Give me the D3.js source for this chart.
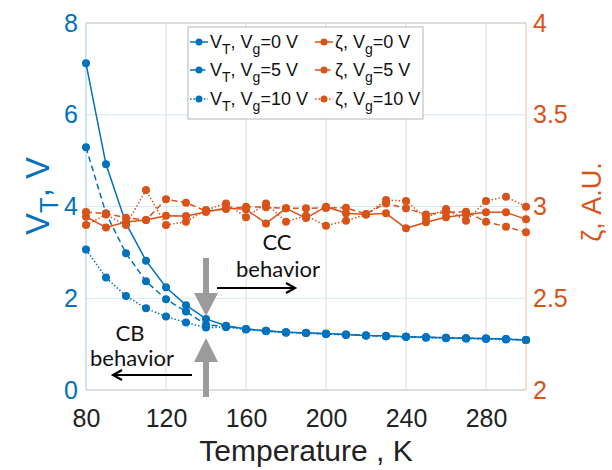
<!DOCTYPE html>
<html>
<head>
<meta charset="utf-8">
<script src="https://cdn.jsdelivr.net/npm/d3@7"></script>
<style>
  body { margin: 0; background: #fff; }
  svg { display: block; font-family: "Liberation Sans", Arial, sans-serif; }
</style>
</head>
<body>
<div id="chart"></div>
<script>
// Data
const temps = [80, 90, 100, 110, 120, 130, 140, 150, 160, 170, 180, 190, 200, 210, 220, 230, 240, 250, 260, 270, 280, 290, 300];
const vt0  = [7.12, 4.92, 3.63, 2.82, 2.24, 1.85, 1.55, 1.40, 1.33, 1.29, 1.26, 1.25, 1.23, 1.21, 1.19, 1.18, 1.16, 1.15, 1.14, 1.13, 1.12, 1.11, 1.09];
const vt5  = [5.29, 3.85, 2.98, 2.37, 1.98, 1.71, 1.42, 1.39, 1.33, 1.29, 1.26, 1.24, 1.22, 1.21, 1.19, 1.17, 1.16, 1.15, 1.14, 1.13, 1.12, 1.11, 1.09];
const vt10 = [3.06, 2.45, 2.05, 1.78, 1.60, 1.47, 1.36, 1.37, 1.32, 1.28, 1.25, 1.24, 1.22, 1.20, 1.19, 1.17, 1.16, 1.14, 1.13, 1.12, 1.11, 1.10, 1.09];
const zeta0  = [2.944, 2.886, 2.916, 2.926, 2.950, 2.948, 2.970, 2.992, 2.985, 2.908, 2.990, 2.937, 2.999, 2.963, 2.957, 2.963, 2.881, 2.914, 2.941, 2.957, 2.968, 2.968, 2.930];
const zeta5  = [2.970, 2.962, 2.939, 2.926, 3.039, 3.021, 2.975, 2.986, 2.999, 2.996, 2.990, 2.990, 2.992, 2.993, 2.959, 3.017, 2.990, 2.957, 2.968, 2.972, 2.917, 2.890, 2.859];
const zeta10 = [2.899, 2.956, 2.899, 3.090, 2.899, 2.917, 2.981, 3.017, 2.941, 3.017, 2.917, 2.950, 2.895, 2.923, 2.956, 3.035, 3.030, 2.939, 2.986, 2.923, 3.030, 3.053, 2.999];
const xTicks = [80, 120, 160, 200, 240, 280];
const yLeftTicks = [0, 2, 4, 6, 8];
const yRightTicks = [2, 2.5, 3, 3.5, 4];

const blue = '#0072BD', orange = '#D95319';

const cfg = {width: 612, height: 470, margin: {top: 23, right: 86, bottom: 80, left: 86}};
const iw = cfg.width - cfg.margin.left - cfg.margin.right;
const ih = cfg.height - cfg.margin.top - cfg.margin.bottom;

const svg = d3.select('#chart').append('svg')
    .attr('width', cfg.width)
    .attr('height', cfg.height);

const g = svg.append('g')
    .attr('transform', `translate(${cfg.margin.left},${cfg.margin.top})`);

// Scales
const x = d3.scaleLinear().domain([80, 300]).range([0, iw]);
const yL = d3.scaleLinear().domain([0, 8]).range([ih, 0]);
const yR = d3.scaleLinear().domain([2, 4]).range([ih, 0]);

// Grid
g.append('g').selectAll('line').data(xTicks.slice(1)).enter().append('line')
    .attr('x1', d => x(d)).attr('x2', d => x(d))
    .attr('y1', 0).attr('y2', ih)
    .attr('stroke', '#dedede').attr('stroke-width', 1);
g.append('g').selectAll('line').data(yLeftTicks.slice(1, -1)).enter().append('line')
    .attr('x1', 0).attr('x2', iw)
    .attr('y1', d => yL(d)).attr('y2', d => yL(d))
    .attr('stroke', '#d6e8f5').attr('stroke-width', 1);

// Box
g.append('line').attr('x1', 0).attr('x2', iw).attr('y1', 0).attr('y2', 0).attr('stroke', '#bdbdbd');
g.append('line').attr('x1', 0).attr('x2', iw).attr('y1', ih).attr('y2', ih).attr('stroke', '#bdbdbd');
g.append('line').attr('x1', 0).attr('x2', 0).attr('y1', 0).attr('y2', ih).attr('stroke', '#9cc6e6');
g.append('line').attr('x1', iw).attr('x2', iw).attr('y1', 0).attr('y2', ih).attr('stroke', '#f3bca4');

// Axes
const xAxis = g.append('g')
    .attr('transform', `translate(0,${ih})`)
    .call(d3.axisBottom(x).tickValues(xTicks).tickSize(0).tickPadding(19));
const yAxisL = g.append('g')
    .call(d3.axisLeft(yL).tickValues(yLeftTicks).tickSize(0).tickPadding(8));
const yAxisR = g.append('g')
    .attr('transform', `translate(${iw},0)`)
    .call(d3.axisRight(yR).tickValues(yRightTicks).tickSize(0).tickPadding(7).tickFormat(d3.format('')));
[xAxis, yAxisL, yAxisR].forEach(a => {
    a.select('.domain').remove();
    a.selectAll('text').attr('font-size', 25).attr('font-family', '"Liberation Sans", Arial, sans-serif');
});
xAxis.selectAll('text').attr('fill', '#222');
yAxisL.selectAll('text').attr('fill', blue);
yAxisR.selectAll('text').attr('fill', orange);

// Series
const dashes = ['none', '6,3.5', '1.5,2'];
function drawSeries(vals, scale, color, dash) {
    const pts = temps.map((t, i) => [t, vals[i]]);
    const line = d3.line().x(d => x(d[0])).y(d => scale(d[1]));
    g.append('path').datum(pts)
        .attr('d', line)
        .attr('fill', 'none')
        .attr('stroke', color)
        .attr('stroke-width', 1.5)
        .attr('stroke-dasharray', dash);
    g.append('g').selectAll('circle').data(pts).enter().append('circle')
        .attr('cx', d => x(d[0]))
        .attr('cy', d => scale(d[1]))
        .attr('r', 4)
        .attr('fill', color);
}
[vt0, vt5, vt10].forEach((s, i) => drawSeries(s, yL, blue, dashes[i]));
[zeta0, zeta5, zeta10].forEach((s, i) => drawSeries(s, yR, orange, dashes[i]));

// Annotations: gray arrows at 140 K
const ax = x(140);
const gray = '#9b9b9b';
g.append('path')
    .attr('d', `M${ax - 3},${235} L${ax + 3},${235} L${ax + 3},${270} L${ax + 12},${270} L${ax},${293} L${ax - 12},${270} L${ax - 3},${270} Z`)
    .attr('fill', gray);
g.append('path')
    .attr('d', `M${ax},${315} L${ax + 12},${339} L${ax + 3},${339} L${ax + 3},${374} L${ax - 3},${374} L${ax - 3},${339} L${ax - 12},${339} Z`)
    .attr('fill', gray);

// Black arrows
function arrow(x1, x2, y) {
    const dir = x2 > x1 ? -1 : 1;
    g.append('path')
        .attr('d', `M${x1},${y} L${x2},${y} M${x2 + dir * 9},${y - 5} L${x2},${y} L${x2 + dir * 9},${y + 5}`)
        .attr('fill', 'none').attr('stroke', '#000').attr('stroke-width', 2.2);
}
arrow(131, 209, 265);
arrow(106, 27, 352);

const annFont = 'Lato, "Open Sans", sans-serif';
[['CC', 191, 227], ['behavior', 192, 254], ['CB', 44, 318], ['behavior', 46, 343]].forEach(d => {
    g.append('text').attr('x', d[1]).attr('y', d[2])
        .attr('text-anchor', 'middle')
        .attr('font-family', annFont).attr('font-size', 22).attr('fill', '#111')
        .text(d[0]);
});

// Rich text helper with subscripts
function rich(sel, parts, sub) {
    let shifted = false;
    parts.forEach(p => {
        const ts = sel.append('tspan').text(p[0]);
        if (p[1]) {
            ts.attr('dy', sub).attr('font-size', '0.78em');
            shifted = true;
        } else if (shifted) {
            ts.attr('dy', -sub);
            shifted = false;
        }
    });
}

// Legend
const leg = svg.append('g').attr('transform', 'translate(188,27)');
leg.append('rect').attr('width', 235).attr('height', 92)
    .attr('fill', '#fff').attr('stroke', '#b5b5b5').attr('stroke-width', 1);
const legRows = [15, 43, 72];
const legVals = ['0', '5', '10'];
legRows.forEach((ry, i) => {
    [[0, blue, 'V'], [125, orange, 'ζ']].forEach(([ox, col, sym]) => {
        leg.append('line').attr('x1', ox + 2).attr('x2', ox + 20).attr('y1', ry).attr('y2', ry)
            .attr('stroke', col).attr('stroke-width', 1.5).attr('stroke-dasharray', dashes[i]);
        leg.append('circle').attr('cx', ox + 11).attr('cy', ry).attr('r', 3.5).attr('fill', col);
        const t = leg.append('text').attr('x', ox + 22).attr('y', ry + 6)
            .attr('font-size', 18).attr('fill', '#111');
        const parts = sym === 'V'
            ? [['V'], ['T', true], [', V'], ['g', true], [`=${legVals[i]} V`]]
            : [['ζ, V'], ['g', true], [`=${legVals[i]} V`]];
        rich(t, parts, 6);
    });
});

// Axis titles
const yt = svg.append('text')
    .attr('transform', 'translate(49,196) rotate(-90)')
    .attr('text-anchor', 'middle')
    .attr('font-size', 33).attr('fill', blue);
rich(yt, [['V'], ['T', true], [', V']], 9);

svg.append('text')
    .attr('transform', 'translate(601,202) rotate(-90)')
    .attr('text-anchor', 'middle')
    .attr('font-size', 27).attr('fill', orange)
    .text('ζ, A.U.');

svg.append('text')
    .attr('x', 306).attr('y', 461)
    .attr('text-anchor', 'middle')
    .attr('font-size', 30).attr('fill', '#222')
    .text('Temperature , K');
</script>
</body>
</html>
